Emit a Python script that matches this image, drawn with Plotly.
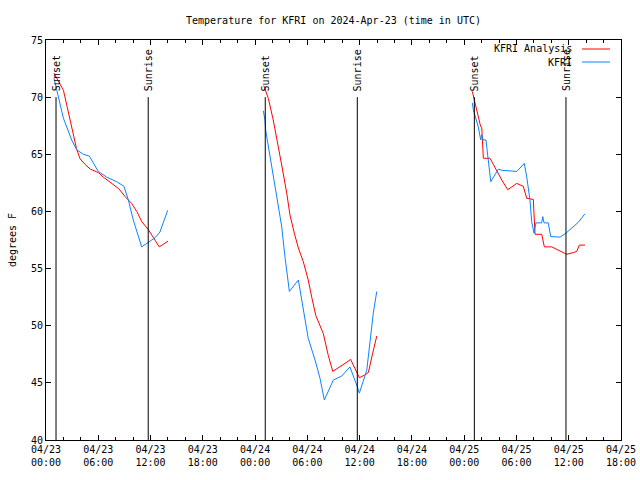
import plotly.graph_objects as go

# ---- data ----
analysis_times = [
    "2024-04-23 00:55", "2024-04-23 02:00", "2024-04-23 02:25", "2024-04-23 03:00", "2024-04-23 03:30",
    "2024-04-23 03:55", "2024-04-23 04:30", "2024-04-23 05:05", "2024-04-23 06:00", "2024-04-23 06:35",
    "2024-04-23 07:20", "2024-04-23 08:20", "2024-04-23 09:05", "2024-04-23 09:50", "2024-04-23 10:25",
    "2024-04-23 11:00", "2024-04-23 11:45", "2024-04-23 12:20", "2024-04-23 13:00", "2024-04-23 13:25",
    "2024-04-23 14:00",
    None,
    "2024-04-24 01:00", "2024-04-24 01:31", "2024-04-24 02:05", "2024-04-24 02:36", "2024-04-24 03:07",
    "2024-04-24 03:38", "2024-04-24 04:00", "2024-04-24 04:30", "2024-04-24 04:58", "2024-04-24 05:32",
    "2024-04-24 06:06", "2024-04-24 06:30", "2024-04-24 06:58", "2024-04-24 07:50", "2024-04-24 08:24",
    "2024-04-24 08:55", "2024-04-24 09:33", "2024-04-24 10:19", "2024-04-24 10:58", "2024-04-24 11:35",
    "2024-04-24 11:58", "2024-04-24 12:37", "2024-04-24 13:00", "2024-04-24 13:30", "2024-04-24 13:58",
    None,
    "2024-04-25 00:56", "2024-04-25 01:14", "2024-04-25 01:37", "2024-04-25 01:54", "2024-04-25 02:01",
    "2024-04-25 02:12", "2024-04-25 02:58", "2024-04-25 03:32", "2024-04-25 04:19", "2024-04-25 05:00",
    "2024-04-25 06:02", "2024-04-25 06:47", "2024-04-25 07:11", "2024-04-25 07:56", "2024-04-25 08:08",
    "2024-04-25 08:54", "2024-04-25 09:12", "2024-04-25 10:03", "2024-04-25 11:46", "2024-04-25 12:32",
    "2024-04-25 12:55", "2024-04-25 13:13", "2024-04-25 13:52",
]
analysis_temps = [
    72.1, 70.6, 69.2, 67.1, 65.5,
    64.6, 64.1, 63.7, 63.4, 63.0,
    62.6, 62.0, 61.3, 60.7, 60.0,
    59.1, 58.4, 57.7, 56.9, 57.1,
    57.4,
    None,
    71.0, 69.9, 68.0, 66.0, 63.8,
    61.6, 59.7, 58.1, 56.8, 55.6,
    54.0, 52.5, 50.9, 49.3, 47.4,
    46.0, 46.35, 46.7, 47.05, 46.0,
    45.45, 45.7, 45.9, 47.6, 49.1,
    None,
    70.5, 69.6, 68.3, 67.4, 67.35,
    64.65, 64.65, 63.8, 62.75, 61.9,
    62.45, 62.2, 61.15, 61.05, 58.0,
    58.0, 56.9, 56.9, 56.25, 56.4,
    56.5, 57.05, 57.05,
]

obs_times = [
    "2024-04-23 00:55", "2024-04-23 01:25", "2024-04-23 02:00", "2024-04-23 02:57", "2024-04-23 03:31",
    "2024-04-23 04:17", "2024-04-23 04:58", "2024-04-23 06:00", "2024-04-23 06:58", "2024-04-23 08:07",
    "2024-04-23 08:57", "2024-04-23 09:27", "2024-04-23 10:01", "2024-04-23 10:59", "2024-04-23 11:44",
    "2024-04-23 12:31", "2024-04-23 13:05", "2024-04-23 13:58",
    None,
    "2024-04-24 00:57", "2024-04-24 01:08", "2024-04-24 01:13", "2024-04-24 01:38", "2024-04-24 02:05",
    "2024-04-24 02:33", "2024-04-24 03:03", "2024-04-24 03:26", "2024-04-24 03:56", "2024-04-24 04:58",
    "2024-04-24 05:32", "2024-04-24 06:06", "2024-04-24 06:53", "2024-04-24 07:27", "2024-04-24 07:57",
    "2024-04-24 08:59", "2024-04-24 09:57", "2024-04-24 10:53", "2024-04-24 11:40", "2024-04-24 11:58",
    "2024-04-24 12:49", "2024-04-24 13:11", "2024-04-24 13:34", "2024-04-24 13:58",
    None,
    "2024-04-25 00:56", "2024-04-25 01:03", "2024-04-25 01:37", "2024-04-25 01:54", "2024-04-25 02:01",
    "2024-04-25 02:12", "2024-04-25 02:30", "2024-04-25 03:03", "2024-04-25 03:55", "2024-04-25 04:19",
    "2024-04-25 06:02", "2024-04-25 06:54", "2024-04-25 07:11", "2024-04-25 07:33", "2024-04-25 07:45",
    "2024-04-25 08:01", "2024-04-25 08:14", "2024-04-25 08:54", "2024-04-25 09:01", "2024-04-25 09:10",
    "2024-04-25 09:39", "2024-04-25 09:56", "2024-04-25 11:00", "2024-04-25 11:41", "2024-04-25 13:06",
    "2024-04-25 13:52",
]
obs_temps = [
    71.65, 70.0, 68.15, 66.25, 65.4,
    65.0, 64.85, 63.5, 63.0, 62.6,
    62.2, 61.0, 59.25, 56.9, 57.3,
    57.7, 58.2, 60.1,
    None,
    68.8, 68.0, 67.1, 65.1, 63.0,
    60.7, 58.7, 56.0, 53.0, 54.0,
    51.4, 48.9, 47.0, 45.4, 43.5,
    45.25, 45.6, 46.4, 44.8, 44.1,
    46.1, 48.75, 51.1, 53.0,
    None,
    69.5, 68.9, 67.4, 66.25, 66.7,
    66.25, 66.25, 62.6, 63.7, 63.6,
    63.5, 64.2, 63.0, 61.0, 59.1,
    58.1, 59.0, 59.0, 59.55, 59.0,
    59.0, 57.8, 57.75, 58.1, 59.05,
    59.8,
]

sunset_times = ["2024-04-23 01:09", "2024-04-24 01:10", "2024-04-25 01:10"]
sunrise_times = ["2024-04-23 11:44", "2024-04-24 11:44", "2024-04-25 11:41"]
marker_top = 70

tick_vals = ["2024-04-23 00:00", "2024-04-23 06:00", "2024-04-23 12:00", "2024-04-23 18:00",
             "2024-04-24 00:00", "2024-04-24 06:00", "2024-04-24 12:00", "2024-04-24 18:00",
             "2024-04-25 00:00", "2024-04-25 06:00", "2024-04-25 12:00", "2024-04-25 18:00"]
tick_text = ["04/23<br>00:00", "04/23<br>06:00", "04/23<br>12:00", "04/23<br>18:00",
             "04/24<br>00:00", "04/24<br>06:00", "04/24<br>12:00", "04/24<br>18:00",
             "04/25<br>00:00", "04/25<br>06:00", "04/25<br>12:00", "04/25<br>18:00"]

RED = "#ff0000"
BLUE = "#0a84ff"
FONT = "DejaVu Sans Mono"

fig = go.Figure()
fig.add_trace(go.Scatter(x=analysis_times, y=analysis_temps, mode="lines", name="KFRI Analysis",
                         line=dict(color=RED, width=1), connectgaps=False, showlegend=False))
fig.add_trace(go.Scatter(x=obs_times, y=obs_temps, mode="lines", name="KFRI",
                         line=dict(color=BLUE, width=1), connectgaps=False, showlegend=False))

for label, times in (("Sunset", sunset_times), ("Sunrise", sunrise_times)):
    for t in times:
        fig.add_shape(type="line", xref="x", yref="y", x0=t, x1=t, y0=40, y1=marker_top,
                      line=dict(color="black", width=1))
        fig.add_annotation(x=t, y=marker_top, xref="x", yref="y", text=label, textangle=-90,
                           showarrow=False, xanchor="center", yanchor="bottom", yshift=4,
                           font=dict(family=FONT, size=10, color="black"))

# legend (gnuplot style: text then sample line)
L, R, T, B = 46, 621, 40, 440
def px(x): return (x - L) / (R - L)
def py(y): return (B - y) / (B - T)
for i, (name, col) in enumerate((("KFRI Analysis", RED), ("KFRI", BLUE))):
    yy = 49 + i * 13
    fig.add_annotation(x=px(574), y=py(yy), xref="paper", yref="paper", text=name, showarrow=False,
                       xanchor="right", yanchor="middle", font=dict(family=FONT, size=10, color="black"))
    fig.add_shape(type="line", xref="paper", yref="paper", x0=px(582), x1=px(610), y0=py(yy), y1=py(yy),
                  line=dict(color=col, width=1))

fig.update_layout(
    width=640, height=480,
    margin=dict(l=L, r=640 - R, t=T, b=480 - B, autoexpand=False),
    paper_bgcolor="white", plot_bgcolor="white",
    font=dict(family=FONT, size=10, color="black"),
    title=dict(text="Temperature for KFRI on 2024-Apr-23 (time in UTC)", x=0.5, xref="paper",
               y=1 - 20 / 480, yref="container", yanchor="middle", xanchor="center",
               font=dict(family=FONT, size=10)),
    showlegend=False,
)
fig.update_xaxes(type="date", range=["2024-04-23 00:00", "2024-04-25 18:00"], automargin=False,
                 tickvals=tick_vals, ticktext=tick_text, ticks="inside", ticklen=5,
                 tickcolor="black", showline=True, linecolor="black", linewidth=1, mirror="ticks",
                 showgrid=False, zeroline=False, tickfont=dict(family=FONT, size=10),
                 minor=dict(dtick=7200000, ticks="inside", ticklen=3, tickcolor="black", showgrid=False))
fig.update_yaxes(range=[40, 75], dtick=5, tick0=40, ticks="inside", ticklen=5, tickcolor="black",
                 showline=True, linecolor="black", linewidth=1, mirror="ticks", showgrid=False,
                 zeroline=False, tickfont=dict(family=FONT, size=10), automargin=False,
                 title=dict(text="degrees F", font=dict(family=FONT, size=10), standoff=12))

fig.write_html("out.html")
